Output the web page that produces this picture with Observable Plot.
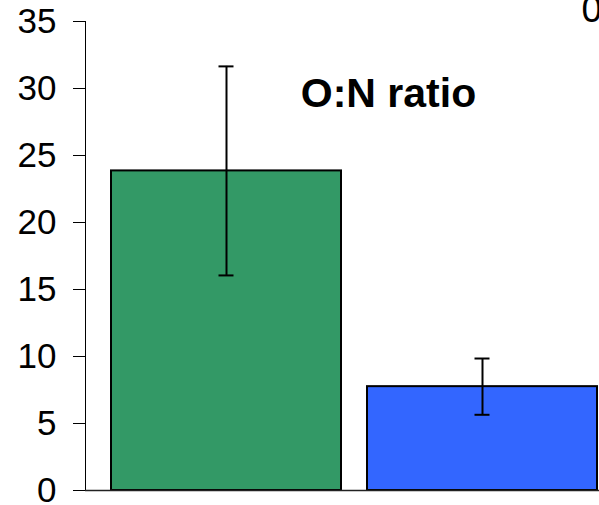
<!DOCTYPE html>
<html><head><meta charset="utf-8">
<script src="https://cdn.jsdelivr.net/npm/d3@7"></script>
<script src="https://cdn.jsdelivr.net/npm/@observablehq/plot@0.6"></script>
<style>html,body{margin:0;padding:0;background:#fff;overflow:hidden}</style>
</head><body><div id="chart"></div>
<script>
const categories = ["Group A", "Group B"];
const means = [23.85, 7.75];
const errors = [7.8, 2.1];
const colors = ["#339966", "#3366ff"];
const yTicks = [0, 5, 10, 15, 20, 25, 30, 35];
const titleText = ["O:N ratio"];
const cornerText = ["0"];

const data = categories.map((c, i) => ({cat: c, mean: means[i], err: errors[i]}));

const plot = Plot.plot({
  width: 599, height: 505,
  marginLeft: 85, marginRight: 0, marginTop: 21, marginBottom: 15,
  style: {fontFamily: "'Liberation Sans', Arial, sans-serif", fontSize: "35px", color: "#000", background: "#fff", overflow: "hidden"},
  x: {domain: categories, range: [85, 623], padding: 0.1, axis: null},
  y: {domain: [0, 35], ticks: yTicks, tickSize: 12, tickPadding: 17, line: true, label: null, tickFormat: d => String(d)},
  color: {domain: categories, range: colors},
  marks: [
    Plot.barY(data, {x: "cat", y: "mean", fill: "cat", stroke: "#000", strokeWidth: 2}),
    Plot.ruleY([0], {stroke: "#222", strokeWidth: 1.5}),
    Plot.ruleX(data, {x: "cat", y1: d => d.mean - d.err, y2: d => d.mean + d.err, stroke: "#000", strokeWidth: 2}),
    Plot.tickY(data, {x: "cat", y: d => d.mean + d.err, insetLeft: 107.5, insetRight: 107.5, stroke: "#000", strokeWidth: 2}),
    Plot.tickY(data, {x: "cat", y: d => d.mean - d.err, insetLeft: 107.5, insetRight: 107.5, stroke: "#000", strokeWidth: 2}),
    Plot.text(titleText, {frameAnchor: "top", dx: 46, dy: 72, fontSize: 41, fontWeight: "bold", lineAnchor: "middle", fill: "#000"}),
    Plot.text(cornerText, {frameAnchor: "top-right", textAnchor: "start", dx: -18, dy: -11, fontSize: 37, lineAnchor: "middle", fill: "#000"})
  ]
});
document.getElementById("chart").appendChild(plot);
</script>
</body></html>
